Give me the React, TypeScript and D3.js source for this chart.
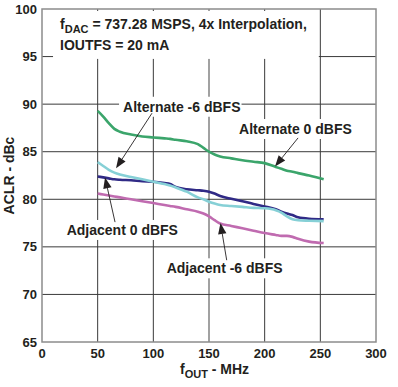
import { useEffect, useRef } from 'react';
import * as d3 from 'd3';

// values (MHz, dBc)
const freqMHz = [50, 55, 60, 65, 70, 80, 90, 100, 110, 115, 120, 130, 140, 145, 150, 155, 160, 170, 180, 190, 200, 210, 215, 220, 225, 230, 240, 253];
const alternate0 = [89.3, 88.7, 88.0, 87.4, 87.1, 86.8, 86.6, 86.5, 86.4, 86.35, 86.25, 86.1, 85.8, 85.4, 85.0, 84.7, 84.5, 84.3, 84.1, 83.95, 83.8, 83.4, 83.2, 83.0, 82.9, 82.75, 82.5, 82.1];
const alternate6 = [83.9, 83.5, 83.1, 82.8, 82.6, 82.35, 82.1, 81.85, 81.6, 81.45, 81.25, 80.8, 80.2, 80.0, 79.75, 79.55, 79.4, 79.3, 79.2, 79.1, 79.05, 78.85, 78.6, 78.2, 77.9, 77.8, 77.75, 77.7];
const adjacent0 = [82.4, 82.3, 82.2, 82.1, 82.05, 82.0, 81.9, 81.85, 81.7, 81.6, 81.3, 81.05, 80.95, 80.9, 80.8, 80.6, 80.35, 80.05, 79.8, 79.5, 79.25, 78.95, 78.7, 78.5, 78.35, 78.1, 77.95, 77.9];
const adjacent6 = [80.6, 80.5, 80.4, 80.3, 80.2, 80.0, 79.8, 79.6, 79.4, 79.3, 79.2, 78.95, 78.7, 78.5, 78.2, 77.8, 77.45, 77.2, 76.95, 76.7, 76.45, 76.25, 76.15, 76.15, 76.05, 75.85, 75.55, 75.4];

const xTicks = [0, 50, 100, 150, 200, 250, 300];
const yTicks = [65, 70, 75, 80, 85, 90, 95, 100];

// drawn bottom to top
const seriesNames = ['Adjacent -6 dBFS', 'Adjacent 0 dBFS', 'Alternate -6 dBFS', 'Alternate 0 dBFS'];
const seriesValues = [adjacent6, adjacent0, alternate6, alternate0];
const seriesColors = ['#c06bb0', '#302a86', '#86d0d6', '#3ba56b'];

// callouts: label anchor, arrow start, arrow tip (data units)
const callouts = [
    { text: 'Alternate -6 dBFS', x: 72.8, y: 89.2, from: [98.8, 89.05], tip: [66.5, 83.25] },
    { text: 'Alternate 0 dBFS', x: 177, y: 86.86, from: [230, 86.45], tip: [209.3, 83.45] },
    { text: 'Adjacent 0 dBFS', x: 22.2, y: 76.25, from: [65.6, 77.6], tip: [56.6, 82.3] },
    { text: 'Adjacent -6 dBFS', x: 112, y: 72.22, from: [165.9, 73.6], tip: [160.3, 77.5] },
];

const titleAt = { x: 16.2, y1: 97.9, y2: 95.7 };

const FONT = '"Liberation Sans", Arial, sans-serif';
const INK = '#231f20';

export default function App() {
    const chartRef = useRef<SVGSVGElement>(null);

    useEffect(() => {
        const width = 398;
        const height = 387;

        const x = d3.scaleLinear().domain([0, 300]).range([42, 376]);
        const y = d3.scaleLinear().domain([65, 100]).range([342, 9]);

        const svg = d3.select(chartRef.current);
        svg.selectAll('*').remove();
        svg.attr('width', width).attr('height', height)
            .style('font-family', FONT).style('font-weight', 'bold');

        svg.append('rect').attr('width', width).attr('height', height).attr('fill', '#fff');

        // grid
        const grid = svg.append('g');
        grid.selectAll('.gx')
            .data(xTicks.slice(1, -1))
            .enter().append('line')
            .attr('x1', d => x(d)).attr('x2', d => x(d))
            .attr('y1', y(100)).attr('y2', y(65))
            .attr('stroke', d => d === 150 ? '#8a8a8a' : '#3a3a3a')
            .attr('stroke-width', d => d === 150 ? 1.6 : 1);
        grid.selectAll('.gy')
            .data(yTicks.slice(1, -1))
            .enter().append('line')
            .attr('x1', x(0)).attr('x2', x(300))
            .attr('y1', d => y(d)).attr('y2', d => y(d))
            .attr('stroke', '#3a3a3a').attr('stroke-width', 1);

        // frame
        svg.append('rect')
            .attr('x', x(0)).attr('y', y(100))
            .attr('width', x(300) - x(0)).attr('height', y(65) - y(100))
            .attr('fill', 'none').attr('stroke', '#8c8c8c').attr('stroke-width', 1.5);

        // tick labels
        svg.append('g').selectAll('text')
            .data(yTicks)
            .enter().append('text')
            .attr('x', 37).attr('y', d => y(d))
            .attr('dy', '0.35em')
            .attr('text-anchor', 'end')
            .attr('font-size', 13).attr('fill', INK)
            .text(d => d);
        svg.append('g').selectAll('text')
            .data(xTicks)
            .enter().append('text')
            .attr('x', d => x(d)).attr('y', 358)
            .attr('text-anchor', 'middle')
            .attr('font-size', 13).attr('fill', INK)
            .text(d => d);

        // axis titles
        svg.append('text')
            .attr('transform', `translate(13.5,${(y(65) + y(100)) / 2}) rotate(-90)`)
            .attr('text-anchor', 'middle')
            .attr('font-size', 14).attr('fill', INK)
            .text('ACLR - dBc');
        const xt = svg.append('text')
            .attr('x', 180).attr('y', 374)
            .attr('font-size', 14).attr('fill', INK);
        xt.append('tspan').text('f');
        xt.append('tspan').attr('dy', 4).attr('font-size', 11).text('OUT');
        xt.append('tspan').attr('dy', -4).text(' - MHz');

        // curves
        const line = d3.line<number>()
            .x((_, i) => x(freqMHz[i]))
            .y(d => y(d))
            .curve(d3.curveMonotoneX);
        svg.append('g').selectAll('path')
            .data(seriesValues)
            .enter().append('path')
            .attr('d', d => line(d))
            .attr('fill', 'none')
            .attr('stroke', (_, i) => seriesColors[i])
            .attr('stroke-width', 2.6)
            .attr('stroke-linejoin', 'round')
            .attr('stroke-linecap', 'butt')
            .append('title').text((_, i) => seriesNames[i]);

        // white box behind text, then the text
        const boxed = (g: d3.Selection<SVGGElement, unknown, null, undefined>, pad: number[]) => {
            const b = (g.node() as SVGGElement).getBBox();
            g.insert('rect', ':first-child')
                .attr('x', b.x - pad[0]).attr('y', b.y - pad[1])
                .attr('width', b.width + pad[0] + pad[2]).attr('height', b.height + pad[1] + pad[3])
                .attr('fill', '#fff');
        };

        // conditions note
        const note = svg.append('g');
        const t1 = note.append('text')
            .attr('x', x(titleAt.x)).attr('y', y(titleAt.y1))
            .attr('font-size', 14).attr('fill', INK);
        t1.append('tspan').text('f');
        t1.append('tspan').attr('dy', 4).attr('font-size', 11).text('DAC');
        t1.append('tspan').attr('dy', -4).text(' = 737.28 MSPS, 4x Interpolation,');
        note.append('text')
            .attr('x', x(titleAt.x)).attr('y', y(titleAt.y2))
            .attr('font-size', 14).attr('fill', INK)
            .text('IOUTFS = 20 mA');
        boxed(note, [7, 5, 12, 6]);

        // callouts
        callouts.forEach(c => {
            const g = svg.append('g');
            g.append('text')
                .attr('x', x(c.x)).attr('y', y(c.y))
                .attr('font-size', 14).attr('fill', INK)
                .text(c.text);
            boxed(g, [4, 2, 1, 2]);

            const x0 = x(c.from[0]), y0 = y(c.from[1]);
            const x1 = x(c.tip[0]), y1 = y(c.tip[1]);
            const ang = Math.atan2(y1 - y0, x1 - x0);
            const len = 11, half = 4.2;
            const bx = x1 - len * Math.cos(ang), by = y1 - len * Math.sin(ang);
            svg.append('line')
                .attr('x1', x0).attr('y1', y0).attr('x2', bx).attr('y2', by)
                .attr('stroke', INK).attr('stroke-width', 0.9);
            const head = [
                [x1, y1],
                [bx + half * Math.sin(ang), by - half * Math.cos(ang)],
                [bx - half * Math.sin(ang), by + half * Math.cos(ang)],
            ];
            svg.append('path')
                .attr('d', 'M' + head.map(p => p.join(',')).join('L') + 'Z')
                .attr('fill', INK);
        });
    }, []);

    return (
        <div style={{ position: 'absolute', left: 0, top: 0 }}>
            <svg ref={chartRef} style={{ display: 'block' }}></svg>
        </div>
    );
}
